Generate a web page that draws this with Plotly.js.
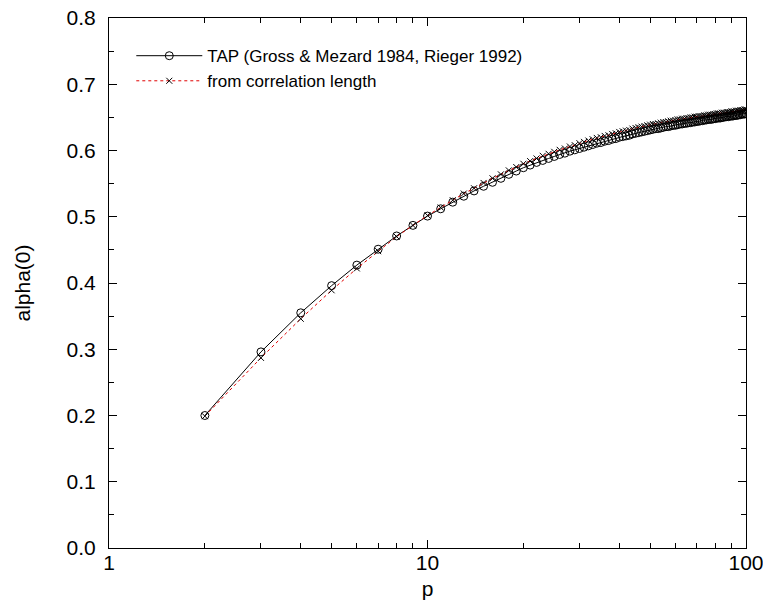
<!DOCTYPE html>
<html>
<head>
<meta charset="utf-8">
<script src="https://cdn.plot.ly/plotly-3.0.1.min.js"></script>
<style>html,body{margin:0;padding:0;background:#fff;}#chart{width:763px;height:610px;}</style>
</head>
<body>
<div id="chart"></div>
<script>
// p = 2 .. 100
var pValues = [];
for (var i = 2; i <= 100; i++) pValues.push(i);

var tapValues = [
  0.200, 0.296, 0.355, 0.396, 0.427, 0.451, 0.471, 0.487, 0.501,
  0.512, 0.522, 0.531, 0.539, 0.546, 0.552, 0.558, 0.564, 0.569, 0.574,
  0.578, 0.582, 0.585, 0.588, 0.591, 0.594, 0.596, 0.599, 0.601, 0.603,
  0.605, 0.607, 0.609, 0.611, 0.612, 0.614, 0.615, 0.617, 0.618, 0.620,
  0.621, 0.622, 0.623, 0.625, 0.626, 0.627, 0.628, 0.629, 0.630, 0.631,
  0.632, 0.633, 0.633, 0.634, 0.635, 0.636, 0.636, 0.637, 0.638, 0.638,
  0.639, 0.640, 0.640, 0.641, 0.641, 0.642, 0.642, 0.643, 0.643, 0.644,
  0.644, 0.645, 0.645, 0.646, 0.646, 0.647, 0.647, 0.647, 0.648, 0.648,
  0.649, 0.649, 0.649, 0.650, 0.650, 0.651, 0.651, 0.651, 0.652, 0.652,
  0.652, 0.653, 0.653, 0.653, 0.654, 0.654, 0.655, 0.655, 0.655, 0.656
];

var corrValues = [
  0.199, 0.287, 0.346, 0.389, 0.422, 0.448, 0.470, 0.487, 0.502,
  0.514, 0.525, 0.535, 0.543, 0.551, 0.558, 0.564, 0.570, 0.575, 0.580,
  0.584, 0.588, 0.592, 0.595, 0.598, 0.601, 0.603, 0.606, 0.608, 0.611,
  0.613, 0.615, 0.617, 0.619, 0.620, 0.622, 0.623, 0.625, 0.626, 0.628,
  0.629, 0.630, 0.631, 0.633, 0.634, 0.635, 0.636, 0.637, 0.638, 0.639,
  0.640, 0.640, 0.641, 0.642, 0.643, 0.643, 0.644, 0.645, 0.645, 0.646,
  0.647, 0.647, 0.648, 0.648, 0.649, 0.649, 0.650, 0.650, 0.651, 0.651,
  0.652, 0.652, 0.652, 0.653, 0.653, 0.654, 0.654, 0.654, 0.655, 0.655,
  0.656, 0.656, 0.656, 0.657, 0.657, 0.657, 0.658, 0.658, 0.658, 0.659,
  0.659, 0.659, 0.660, 0.660, 0.660, 0.661, 0.661, 0.661, 0.662, 0.662
];

var seriesNames = ["TAP (Gross &amp; Mezard 1984, Rieger 1992)", "from correlation length"];
var xTickVals = [1, 10, 100];
var xTickText = ["1", "10", "100"];
var xMinorVals = [2,3,4,5,6,7,8,9,20,30,40,50,60,70,80,90];
var yTickVals = [0, 0.1, 0.2, 0.3, 0.4, 0.5, 0.6, 0.7, 0.8];
var yTickText = ["0.0", "0.1", "0.2", "0.3", "0.4", "0.5", "0.6", "0.7", "0.8"];

var traces = [
  {
    x: pValues, y: tapValues, name: seriesNames[0],
    type: "scatter", mode: "lines+markers",
    line: {color: "#000", width: 1},
    marker: {symbol: "circle-open", size: 8, color: "#000", line: {width: 1, color: "#000"}}
  },
  {
    x: pValues, y: corrValues, name: seriesNames[1],
    type: "scatter", mode: "lines+markers",
    line: {color: "#e00000", width: 1, dash: "dot"},
    marker: {symbol: "x-thin-open", size: 6, color: "#000", line: {width: 1, color: "#000"}}
  }
];

var fontFam = "Liberation Sans, Arial, sans-serif";
var layout = {
  width: 763, height: 610,
  margin: {l: 109, r: 17, t: 18, b: 62},
  paper_bgcolor: "#fff", plot_bgcolor: "#fff",
  font: {family: fontFam, size: 21, color: "#000"},
  showlegend: true,
  legend: {
    x: 0.035, y: 0.962, xanchor: "left", yanchor: "top",
    bgcolor: "rgba(0,0,0,0)", borderwidth: 0,
    font: {family: fontFam, size: 17, color: "#000"},
    itemwidth: 66,
    tracegroupgap: 0
  },
  xaxis: {
    type: "log", range: [0, 2],
    tickmode: "array", tickvals: xTickVals, ticktext: xTickText,
    ticks: "inside", ticklen: 8, tickcolor: "#000", tickwidth: 1,
    minor: {tickmode: "array", tickvals: xMinorVals, ticks: "inside", ticklen: 5, tickcolor: "#000", tickwidth: 1, showgrid: false},
    showline: true, linecolor: "#000", linewidth: 1, mirror: "ticks",
    showgrid: false, zeroline: false,
    tickfont: {family: fontFam, size: 21},
    ticklabeloverflow: "allow",
    ticklabelstandoff: -4,
    title: {text: "p", font: {family: fontFam, size: 21}, standoff: 8}
  },
  yaxis: {
    range: [0, 0.8],
    tickmode: "array", tickvals: yTickVals, ticktext: yTickText,
    ticks: "inside", ticklen: 8, tickcolor: "#000", tickwidth: 1,
    minor: {dtick: 0.05, ticks: "inside", ticklen: 5, tickcolor: "#000", tickwidth: 1, showgrid: false},
    showline: true, linecolor: "#000", linewidth: 1, mirror: "ticks",
    showgrid: false, zeroline: false,
    tickfont: {family: fontFam, size: 21},
    ticklabelstandoff: 8,
    title: {text: "alpha(0)", font: {family: fontFam, size: 21}, standoff: 30}
  }
};

Plotly.newPlot("chart", traces, layout, {displayModeBar: false, staticPlot: true});
</script>
</body>
</html>
